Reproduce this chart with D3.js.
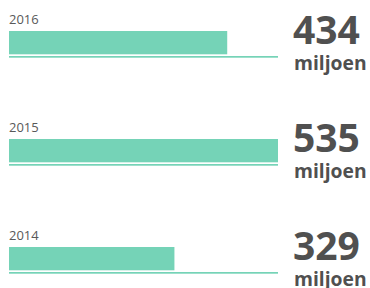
<!DOCTYPE html>
<html>
<head>
<meta charset="utf-8">
<script src="https://cdn.jsdelivr.net/npm/d3@7"></script>
<style>
  body { margin: 0; background: #fff; }
  svg { display: block; font-family: "Open Sans", sans-serif; }
</style>
</head>
<body>
<div class="visHolder"></div>
<script>
let years = ["2016", "2015", "2014"];
let values = [434, 535, 329];
let unit = "miljoen";

let width = 370;
let height = 288;
let barLeft = 9;
let barRight = 278;

let svg = d3
  .select(".visHolder")
  .append("svg")
  .attr("width", width)
  .attr("height", height);

let xScale = d3
  .scaleLinear()
  .domain([0, d3.max(values)])
  .range([barLeft, barRight]);

// each row is 108px tall, bar starts 31px into it
let yScale = d3
  .scaleBand()
  .domain(years)
  .range([0, 108 * years.length]);

let rows = svg
  .selectAll("g.row")
  .data(years)
  .enter()
  .append("g")
  .attr("class", "row")
  .attr("transform", (d) => "translate(0," + yScale(d) + ")");

rows
  .append("text")
  .attr("x", barLeft)
  .attr("y", 23.5)
  .attr("font-size", 13)
  .attr("fill", "#595959")
  .text((d) => d);

rows
  .append("rect")
  .attr("x", barLeft)
  .attr("y", 31)
  .attr("width", (d, i) => xScale(values[i]) - barLeft)
  .attr("height", 23.3)
  .attr("fill", "#75d3b7");

rows
  .append("rect")
  .attr("x", barLeft)
  .attr("y", 56)
  .attr("width", barRight - barLeft)
  .attr("height", 1.7)
  .attr("fill", "#75d3b7");

rows
  .append("text")
  .attr("x", 293)
  .attr("y", 43.5)
  .attr("font-size", 39)
  .attr("font-weight", "bold")
  .attr("fill", "#505050")
  .text((d, i) => values[i]);

rows
  .append("text")
  .attr("x", 294)
  .attr("y", 70)
  .attr("font-size", 19.3)
  .attr("font-weight", "bold")
  .attr("fill", "#505050")
  .text(unit);
</script>
</body>
</html>
